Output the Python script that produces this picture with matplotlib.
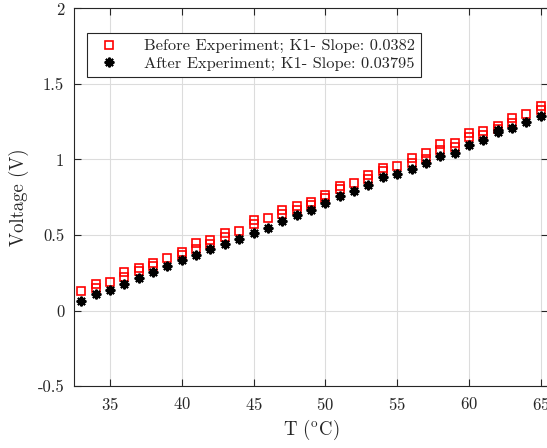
import matplotlib
matplotlib.use("Agg")
import matplotlib.pyplot as plt

# Temperatures (°C) and measured voltages (V)
t_before = [33, 34, 34, 35, 36, 36, 37, 37, 38, 38, 39, 40, 40, 41, 41, 42, 42,
            43, 43, 44, 45, 45, 46, 47, 47, 48, 48, 49, 49, 50, 50, 51, 51, 52,
            53, 53, 54, 54, 55, 56, 56, 57, 57, 58, 58, 59, 59, 60, 60, 61, 61,
            62, 62, 63, 63, 64, 65, 65]
v_before = [0.128, 0.176, 0.150, 0.192, 0.253, 0.223, 0.282, 0.260, 0.315, 0.293,
            0.348, 0.390, 0.368, 0.447, 0.408, 0.465, 0.443, 0.511, 0.487, 0.527,
            0.597, 0.573, 0.613, 0.663, 0.641, 0.694, 0.668, 0.720, 0.699, 0.767,
            0.745, 0.826, 0.804, 0.844, 0.897, 0.874, 0.947, 0.921, 0.958, 1.009,
            0.980, 1.042, 1.003, 1.100, 1.064, 1.112, 1.086, 1.174, 1.148, 1.192,
            1.165, 1.225, 1.203, 1.274, 1.245, 1.302, 1.355, 1.328]

t_after = [33, 34, 35, 36, 37, 38, 39, 40, 41, 42, 43, 44, 45, 46, 47, 48, 49,
           50, 51, 52, 53, 54, 55, 56, 57, 58, 59, 60, 61, 62, 62, 63, 64, 65]
v_after = [0.066, 0.106, 0.139, 0.176, 0.214, 0.256, 0.293, 0.332, 0.368, 0.408,
           0.441, 0.474, 0.513, 0.549, 0.590, 0.634, 0.668, 0.712, 0.760, 0.793,
           0.833, 0.884, 0.905, 0.937, 0.976, 1.020, 1.046, 1.095, 1.130, 1.196,
           1.185, 1.207, 1.251, 1.289]

label_before = "Before Experiment; K1- Slope: 0.0382"
label_after = "After Experiment; K1- Slope: 0.03795"

plt.rcParams["font.family"] = ["cmr10", "DejaVu Serif"]
plt.rcParams["mathtext.fontset"] = "cm"
plt.rcParams["axes.unicode_minus"] = False
plt.rcParams["axes.formatter.use_mathtext"] = True

axis_col = "#262626"

fig = plt.figure(figsize=(5.47, 4.48), dpi=100)
W, H = 547, 448
# caja de ejes en pixeles: izq 74, der 548, arriba 8.5, abajo 386
ax = fig.add_axes([74 / W, 1 - 386 / H, 474 / W, (386 - 8.5) / H])

ax.plot(t_before, v_before, linestyle="none", marker="s", markersize=5.6,
        markerfacecolor="none", markeredgecolor="#ff0000", markeredgewidth=1.2,
        label=label_before, zorder=3)
ax.plot(t_after, v_after, linestyle="none", marker=(8, 2, 0), markersize=7,
        color="black", markeredgewidth=1.5, label=label_after, zorder=4)

ax.set_xlim(32.5, 65.5)
ax.set_ylim(-0.5, 2)
ax.set_xticks([35, 40, 45, 50, 55, 60, 65])
ax.set_yticks([-0.5, 0, 0.5, 1, 1.5, 2])
ax.set_yticklabels(["-0.5", "0", "0.5", "1", "1.5", "2"])

ax.grid(True, color="#dcdcdc", linewidth=0.8)
ax.set_axisbelow(True)
for s in ax.spines.values():
    s.set_color(axis_col)
    s.set_linewidth(0.8)
ax.tick_params(direction="in", top=True, right=True, length=5, width=0.8,
               colors=axis_col, labelsize=12, labelcolor=axis_col, pad=7)

ax.set_xlabel(r"T ($^{\mathrm{o}}$C)", fontsize=13.5, color=axis_col, labelpad=4)
ax.set_ylabel("Voltage (V)", fontsize=13.5, color=axis_col, labelpad=6)

leg = ax.legend(loc="upper left", bbox_to_anchor=(0.028, 0.935),
                borderaxespad=0, fontsize=11.8, fancybox=False,
                edgecolor=axis_col, framealpha=1, handletextpad=1.1,
                borderpad=0.35, labelspacing=0.2, handlelength=2.0)
leg.get_frame().set_linewidth(0.8)
for txt in leg.get_texts():
    txt.set_color(axis_col)

fig.savefig("out.png", dpi=100)
